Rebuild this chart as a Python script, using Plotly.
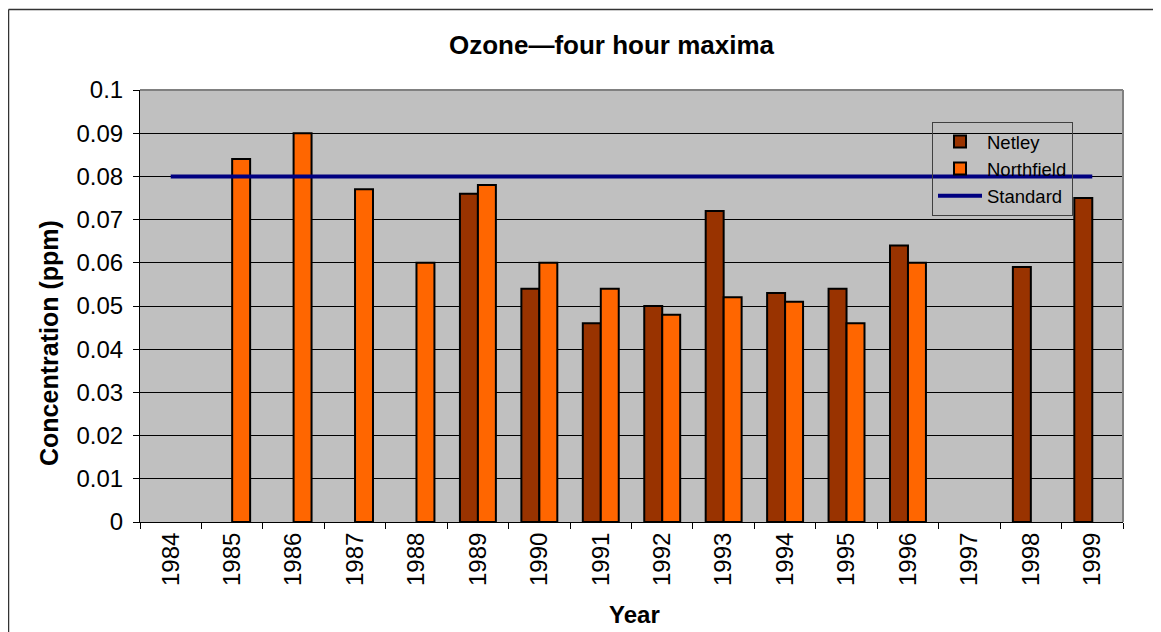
import plotly.graph_objects as go

# ---- data ----
years = ["1984", "1985", "1986", "1987", "1988", "1989", "1990", "1991",
         "1992", "1993", "1994", "1995", "1996", "1997", "1998", "1999"]
netley = [None, None, None, None, None, 0.076, 0.054, 0.046,
          0.050, 0.072, 0.053, 0.054, 0.064, None, 0.059, 0.075]
northfield = [None, 0.084, 0.090, 0.077, 0.060, 0.078, 0.060, 0.054,
              0.048, 0.052, 0.051, 0.046, 0.060, None, None, None]
standard_value = 0.08
standard = [standard_value] * len(years)
y_ticks = [0, 0.01, 0.02, 0.03, 0.04, 0.05, 0.06, 0.07, 0.08, 0.09, 0.1]

# ---- layout geometry (screen pixels; page body adds an 8px offset) ----
OFF = 8
W, H = 1161 - OFF, 632 - OFF
L, R, T, B = 140, 1123, 90, 522     # plot area on screen
pw, ph = R - L, B - T

def px_x(x):
    return (x - L) / pw

def px_y(y):
    return (B - y) / ph

FONT = "Liberation Sans, Arial, sans-serif"

fig = go.Figure()
fig.add_trace(go.Bar(
    x=years, y=netley, name="Netley", legendgroup="a",
    marker=dict(color="#993300", line=dict(color="black", width=2)),
))
fig.add_trace(go.Bar(
    x=years, y=northfield, name="Northfield", legendgroup="b",
    marker=dict(color="#FF6600", line=dict(color="black", width=2)),
))
fig.add_trace(go.Scatter(
    x=years, y=standard, name="Standard", legendgroup="c", mode="lines",
    line=dict(color="#000080", width=4),
))

fig.update_layout(
    width=W, height=H,
    margin=dict(l=L - OFF, r=(W + OFF) - R, t=T - OFF, b=(H + OFF) - B,
                autoexpand=False),
    paper_bgcolor="white",
    plot_bgcolor="#C0C0C0",
    barmode="group", bargap=0.415, bargroupgap=0,
    font=dict(family=FONT, size=24, color="black"),
    showlegend=True,
    legend=dict(
        x=px_x(932), y=px_y(122), xanchor="left", yanchor="top",
        bgcolor="rgba(0,0,0,0)", bordercolor="#404040", borderwidth=1,
        font=dict(family=FONT, size=18.5, color="black"),
        traceorder="grouped", tracegroupgap=0, itemwidth=44,
    ),
    xaxis=dict(
        type="category", showgrid=False, showline=True, linecolor="black",
        linewidth=1, ticks="outside", ticklen=6, tickcolor="black",
        tickson="boundaries", tickangle=-90, tickfont=dict(size=24),
        range=[-0.5, 15.5], fixedrange=True,
    ),
    yaxis=dict(
        range=[0, 0.1], tickvals=y_ticks, ticktext=[f"{v:g}" for v in y_ticks],
        showgrid=True, gridcolor="black", gridwidth=1,
        showline=True, linecolor="black", linewidth=1,
        ticks="outside", ticklen=6, tickcolor="black",
        tickfont=dict(size=24), zeroline=False, ticklabelstandoff=5,
    ),
    annotations=[
        dict(text="<b>Ozone—four hour maxima</b>", xref="paper", yref="paper",
             x=px_x(612), y=px_y(45), xanchor="center", yanchor="middle",
             showarrow=False, font=dict(size=26)),
        dict(text="<b>Concentration (ppm)</b>", xref="paper", yref="paper",
             x=px_x(49), y=px_y(343), xanchor="center", yanchor="middle",
             textangle=-90, showarrow=False, font=dict(size=25)),
        dict(text="<b>Year</b>", xref="paper", yref="paper",
             x=px_x(634), y=px_y(614), xanchor="center", yanchor="middle",
             showarrow=False, font=dict(size=24)),
    ],
    shapes=[
        # plot-area border (top & right)
        dict(type="line", xref="paper", yref="paper", x0=0, x1=1, y0=1, y1=1,
             line=dict(color="#808080", width=2), layer="above"),
        dict(type="line", xref="paper", yref="paper", x0=1, x1=1, y0=0, y1=1,
             line=dict(color="#808080", width=2), layer="above"),
        # outer chart frame (left & top)
        dict(type="line", xref="paper", yref="paper",
             x0=px_x(8.5), x1=px_x(8.5), y0=px_y(9.5), y1=px_y(640),
             line=dict(color="#333333", width=1.5)),
        dict(type="line", xref="paper", yref="paper",
             x0=px_x(8.5), x1=px_x(1170), y0=px_y(9.5), y1=px_y(9.5),
             line=dict(color="#333333", width=1.5)),
    ],
)

fig.write_html("out.html")
